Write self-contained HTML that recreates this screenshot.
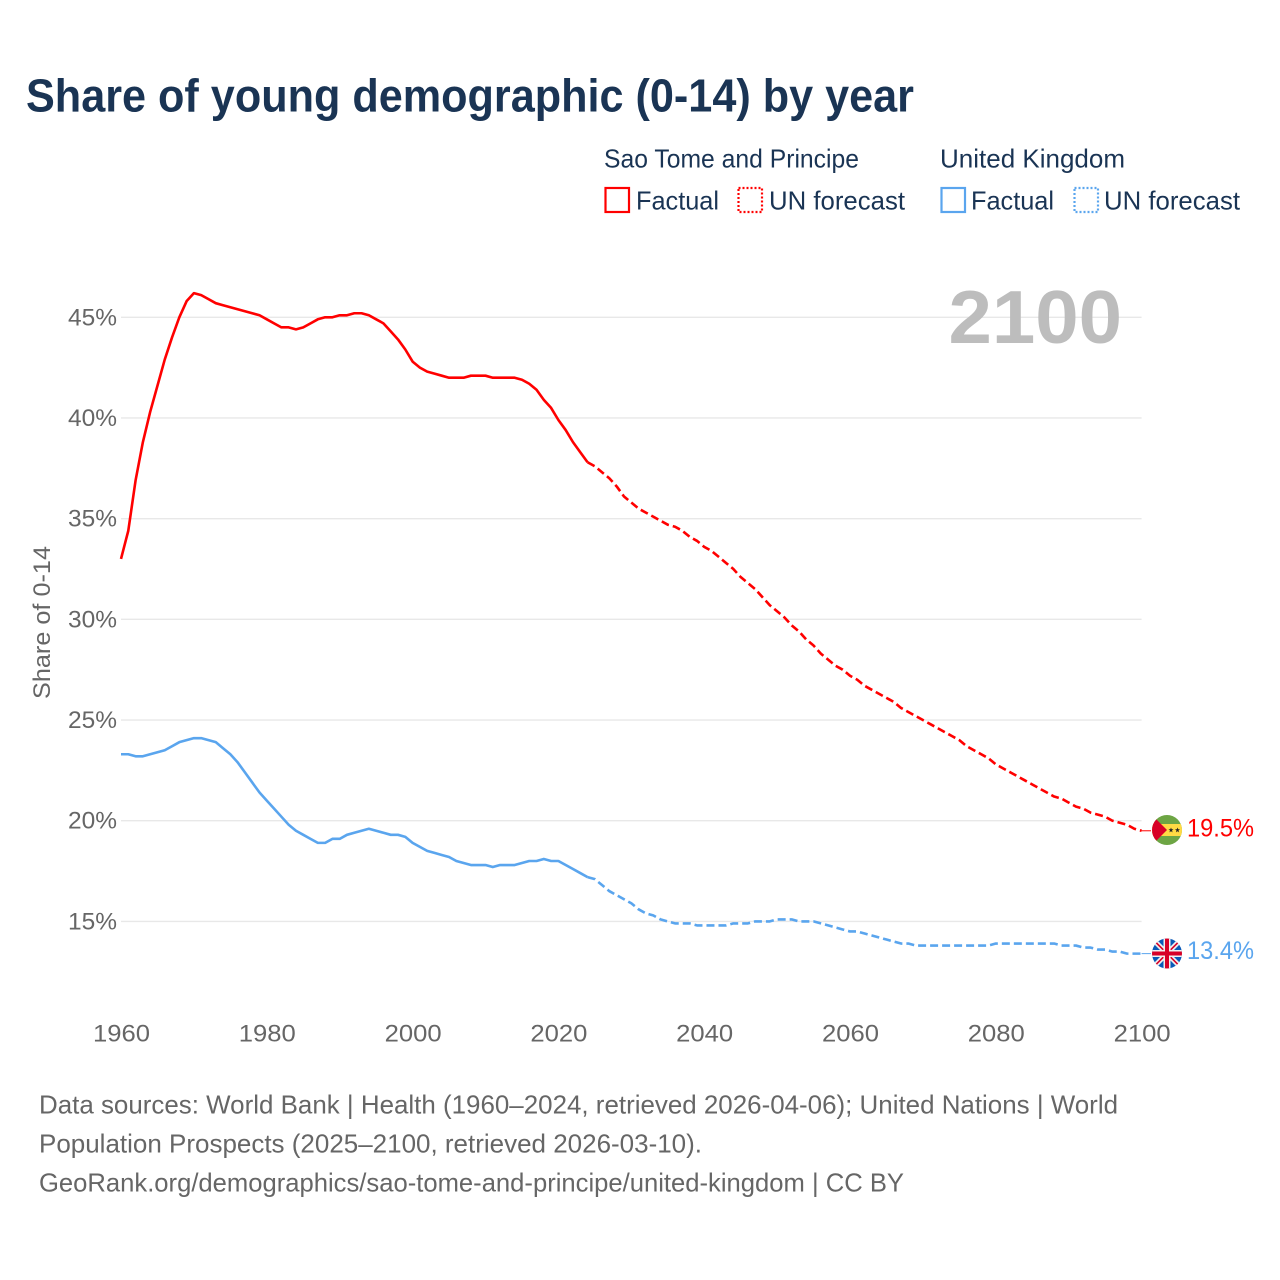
<!DOCTYPE html>
<html lang="en">
<head>
<meta charset="utf-8">
<title>Share of young demographic (0-14) by year</title>
<style>
html,body{margin:0;padding:0;background:#fff;width:1280px;height:1280px;overflow:hidden}
svg{display:block}
text{font-family:"Liberation Sans",sans-serif}
</style>
</head>
<body>
<svg id="chart" xmlns="http://www.w3.org/2000/svg" width="1280" height="1280" viewBox="0 0 1280 1280">
  <defs>
    <clipPath id="flag-clip-a"><circle cx="1167" cy="830" r="15"/></clipPath>
    <clipPath id="flag-clip-b"><circle cx="1167" cy="953.5" r="15"/></clipPath>
  </defs>
  <rect width="1280" height="1280" fill="#fff"/>
  <text x="26" y="111.5" font-size="46" font-weight="700" fill="#1a3454" textLength="888" lengthAdjust="spacingAndGlyphs">Share of young demographic (0-14) by year</text>

  <g font-size="26" fill="#1a3454">
    <text x="604" y="167.5" textLength="255" lengthAdjust="spacingAndGlyphs">Sao Tome and Principe</text>
    <text x="940" y="167.5" textLength="185" lengthAdjust="spacingAndGlyphs">United Kingdom</text>
    <rect x="605.5" y="188" width="23.5" height="24" fill="none" stroke="#ff0000" stroke-width="2.2"/>
    <text x="636" y="209.5" textLength="83" lengthAdjust="spacingAndGlyphs">Factual</text>
    <rect x="738.5" y="188" width="23.5" height="24" fill="none" stroke="#ff0000" stroke-width="2.2" stroke-dasharray="2 2"/>
    <text x="769" y="209.5" textLength="136" lengthAdjust="spacingAndGlyphs">UN forecast</text>
    <rect x="941.5" y="188" width="23.5" height="24" fill="none" stroke="#5aa5ee" stroke-width="2.2"/>
    <text x="971" y="209.5" textLength="83" lengthAdjust="spacingAndGlyphs">Factual</text>
    <rect x="1074.5" y="188" width="23.5" height="24" fill="none" stroke="#5aa5ee" stroke-width="2.2" stroke-dasharray="2 2"/>
    <text x="1104" y="209.5" textLength="136" lengthAdjust="spacingAndGlyphs">UN forecast</text>
  </g>

  <g id="grid"></g>
  <g id="y-ticks"></g>
  <g id="x-ticks"></g>

  <text x="948.5" y="343" font-size="75" font-weight="700" fill="#bdbdbd" textLength="173.5" lengthAdjust="spacingAndGlyphs">2100</text>
  <text transform="translate(50 699) rotate(-90)" font-size="24" fill="#666" textLength="153" lengthAdjust="spacingAndGlyphs">Share of 0-14</text>

  <g id="series"></g>

  <g clip-path="url(#flag-clip-a)">
    <rect x="1152" y="815" width="30" height="30" fill="#6da544"/>
    <rect x="1152" y="824" width="30" height="12" fill="#ffda44"/>
    <polygon points="1152,815 1167,830 1152,845" fill="#d80027"/>
    <polygon points="1171,827.5 1171.7,829.3 1173.5,829.3 1172,830.5 1172.6,832.4 1171,831.2 1169.4,832.4 1170,830.5 1168.5,829.3 1170.3,829.3" fill="#222"/>
    <polygon points="1177.5,827.5 1178.2,829.3 1180,829.3 1178.5,830.5 1179.1,832.4 1177.5,831.2 1175.9,832.4 1176.5,830.5 1175,829.3 1176.8,829.3" fill="#222"/>
  </g>
  <g clip-path="url(#flag-clip-b)">
    <rect x="1152" y="938.5" width="30" height="30" fill="#0a5ab8"/>
    <path d="M1152 938.5L1182 968.5M1182 938.5L1152 968.5" stroke="#f0f0f0" stroke-width="5"/>
    <path d="M1152 938.5L1182 968.5M1182 938.5L1152 968.5" stroke="#d80027" stroke-width="1.6"/>
    <rect x="1152" y="950" width="30" height="7" fill="#f0f0f0"/>
    <rect x="1163.5" y="938.5" width="7" height="30" fill="#f0f0f0"/>
    <rect x="1152" y="951.5" width="30" height="4" fill="#d80027"/>
    <rect x="1165" y="938.5" width="4" height="30" fill="#d80027"/>
  </g>
  <text x="1187" y="836.5" font-size="25" fill="#ff0000" textLength="67" lengthAdjust="spacingAndGlyphs">19.5%</text>
  <text x="1187" y="959" font-size="25" fill="#5aa5ee" textLength="67" lengthAdjust="spacingAndGlyphs">13.4%</text>

  <g font-size="26" fill="#666">
    <text x="39" y="1113.5" textLength="1079" lengthAdjust="spacingAndGlyphs">Data sources: World Bank | Health (1960–2024, retrieved 2026-04-06); United Nations | World</text>
    <text x="39" y="1152.5" textLength="663" lengthAdjust="spacingAndGlyphs">Population Prospects (2025–2100, retrieved 2026-03-10).</text>
    <text x="39" y="1191.5" textLength="865" lengthAdjust="spacingAndGlyphs">GeoRank.org/demographics/sao-tome-and-principe/united-kingdom | CC BY</text>
  </g>
</svg>
<script>
const yTicks = [15, 20, 25, 30, 35, 40, 45];
const yTickLabels = ['15%', '20%', '25%', '30%', '35%', '40%', '45%'];
const xTicks = [1960, 1980, 2000, 2020, 2040, 2060, 2080, 2100];
const xTickLabels = ['1960', '1980', '2000', '2020', '2040', '2060', '2080', '2100'];
const factualStartYear = 1960;
const forecastStartYear = 2024;
const saoTomeFactual = [
  33.0,34.4,36.9,38.8,40.3,41.6,42.9,44.0,45.0,45.8,
  46.2,46.1,45.9,45.7,45.6,45.5,45.4,45.3,45.2,45.1,
  44.9,44.7,44.5,44.5,44.4,44.5,44.7,44.9,45.0,45.0,
  45.1,45.1,45.2,45.2,45.1,44.9,44.7,44.3,43.9,43.4,
  42.8,42.5,42.3,42.2,42.1,42.0,42.0,42.0,42.1,42.1,
  42.1,42.0,42.0,42.0,42.0,41.9,41.7,41.4,40.9,40.5,
  39.9,39.4,38.8,38.3,37.8
];
const saoTomeForecast = [
  37.8,37.6,37.3,37.0,36.6,36.1,
  35.8,35.5,35.3,35.1,34.9,34.7,34.6,34.4,34.1,33.9,
  33.6,33.4,33.1,32.8,32.5,32.1,31.8,31.5,31.1,30.7,
  30.4,30.1,29.7,29.4,29.0,28.7,28.3,28.0,27.7,27.5,
  27.2,27.0,26.7,26.5,26.3,26.1,25.9,25.6,25.4,25.2,
  25.0,24.8,24.6,24.4,24.2,24.0,23.7,23.5,23.3,23.1,
  22.8,22.6,22.4,22.2,22.0,21.8,21.6,21.4,21.2,21.1,
  20.9,20.7,20.6,20.4,20.3,20.2,20.0,19.9,19.8,19.6,
  19.5
];
const ukFactual = [
  23.3,23.3,23.2,23.2,23.3,23.4,23.5,23.7,23.9,24.0,
  24.1,24.1,24.0,23.9,23.6,23.3,22.9,22.4,21.9,21.4,
  21.0,20.6,20.2,19.8,19.5,19.3,19.1,18.9,18.9,19.1,
  19.1,19.3,19.4,19.5,19.6,19.5,19.4,19.3,19.3,19.2,
  18.9,18.7,18.5,18.4,18.3,18.2,18.0,17.9,17.8,17.8,
  17.8,17.7,17.8,17.8,17.8,17.9,18.0,18.0,18.1,18.0,
  18.0,17.8,17.6,17.4,17.2
];
const ukForecast = [
  17.2,17.1,16.8,16.5,16.3,16.1,
  15.9,15.6,15.4,15.3,15.1,15.0,14.9,14.9,14.9,14.8,
  14.8,14.8,14.8,14.8,14.9,14.9,14.9,15.0,15.0,15.0,
  15.1,15.1,15.1,15.0,15.0,15.0,14.9,14.8,14.7,14.6,
  14.5,14.5,14.4,14.3,14.2,14.1,14.0,13.9,13.9,13.8,
  13.8,13.8,13.8,13.8,13.8,13.8,13.8,13.8,13.8,13.8,
  13.9,13.9,13.9,13.9,13.9,13.9,13.9,13.9,13.9,13.8,
  13.8,13.8,13.7,13.7,13.6,13.6,13.5,13.5,13.4,13.4,
  13.4
];

const NS = 'http://www.w3.org/2000/svg';
const xScale = function (year) { return 121 + (year - 1960) * (1020.6 / 140); };
const yScale = function (value) { return 921.4 - (value - 15) * 20.137; };

const svgEl = function (parent, tag, attrs, text) {
  const el = document.createElementNS(NS, tag);
  Object.keys(attrs).forEach(function (k) { el.setAttribute(k, attrs[k]); });
  if (text !== undefined) el.textContent = text;
  parent.appendChild(el);
  return el;
};

const gridGroup = document.getElementById('grid');
const yTickGroup = document.getElementById('y-ticks');
const xTickGroup = document.getElementById('x-ticks');
const seriesGroup = document.getElementById('series');

yTicks.forEach(function (tick, i) {
  const y = yScale(tick);
  const line = svgEl(gridGroup, 'line', {x1: 121, x2: 1141.6, y1: y, y2: y, stroke: '#e8e8e8', 'stroke-width': 1.4});
  
  
  const label = svgEl(yTickGroup, 'text', {x: 68, y: y + 8, 'font-size': 24, fill: '#666', textLength: 49, lengthAdjust: 'spacingAndGlyphs'}, yTickLabels[i]);
  
  
});

xTicks.forEach(function (tick, i) {
  const label = svgEl(xTickGroup, 'text', {x: xScale(tick) - 28, y: 1041.5, 'font-size': 24, fill: '#666', textLength: 57, lengthAdjust: 'spacingAndGlyphs'}, xTickLabels[i]);
  
  
});

const toPoints = function (values, startYear) {
  return values.map(function (v, i) {
    return xScale(startYear + i).toFixed(2) + ',' + yScale(v).toFixed(2);
  }).join(' ');
};

const drawSeries = function (values, startYear, color, dashed) {
  const attrs = {points: toPoints(values, startYear), fill: 'none', stroke: color, 'stroke-width': 2.6, 'stroke-linejoin': 'round'};
  if (dashed) attrs['stroke-dasharray'] = '8 4';
  return svgEl(seriesGroup, 'polyline', attrs);
};

const redFact = drawSeries(saoTomeFactual, factualStartYear, '#ff0000', false);


const redFore = drawSeries(saoTomeForecast, forecastStartYear, '#ff0000', true);


const blueFact = drawSeries(ukFactual, factualStartYear, '#5aa5ee', false);


const blueFore = drawSeries(ukForecast, forecastStartYear, '#5aa5ee', true);



const redEnd = yScale(saoTomeForecast[saoTomeForecast.length - 1]);
const redLeader = svgEl(seriesGroup, 'line', {x1: xScale(2100), x2: 1151, y1: redEnd, y2: redEnd, stroke: '#ff0000', 'stroke-width': 1});


const blueEnd = yScale(ukForecast[ukForecast.length - 1]);
const blueLeader = svgEl(seriesGroup, 'line', {x1: xScale(2100), x2: 1151, y1: blueEnd, y2: blueEnd, stroke: '#5aa5ee', 'stroke-width': 1});


</script>
</body>
</html>
